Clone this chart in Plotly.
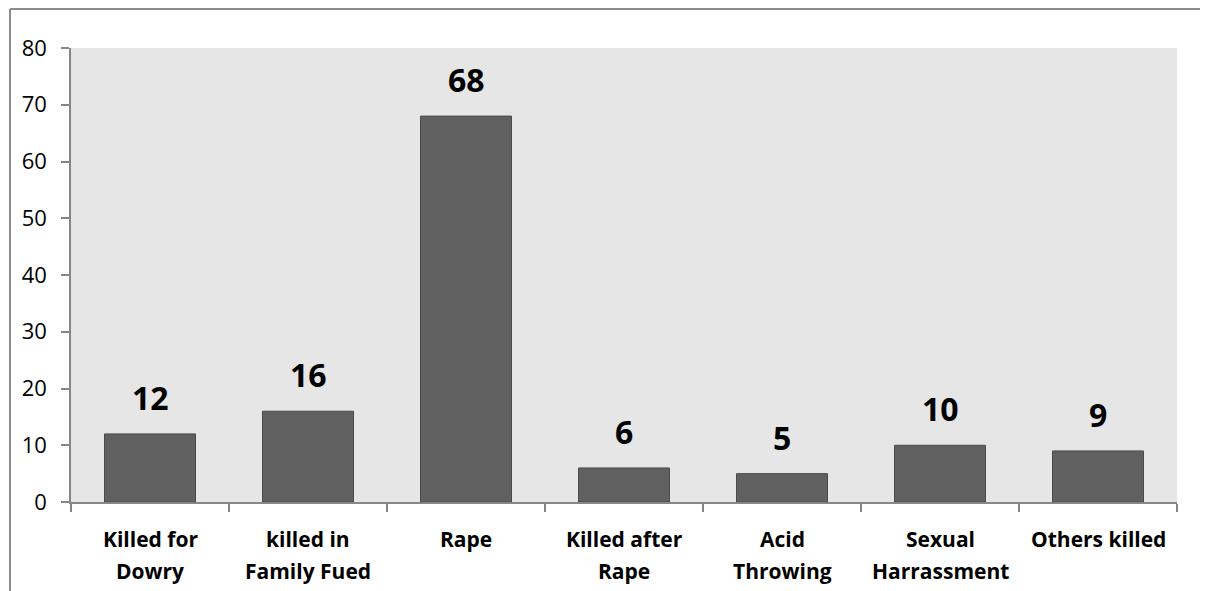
import plotly.graph_objects as go

categories = ["Killed for Dowry", "killed in Family Fued", "Rape", "Killed after Rape",
              "Acid Throwing", "Sexual Harrassment", "Others killed"]
label_line1 = ["Killed for", "killed in", "Rape", "Killed after", "Acid", "Sexual", "Others killed"]
label_line2 = ["Dowry", "Family Fued", "", "Rape", "Throwing", "Harrassment", ""]
values = [12, 16, 68, 6, 5, 10, 9]
y_ticks = [0, 10, 20, 30, 40, 50, 60, 70, 80]

# page body has an 8px margin; compensate so the plot lands where the reference has it
W, H = 1200, 583
ML, MR, MT, MB = 63, 31, 40, 89
FONT = "Open Sans"

fig = go.Figure()
fig.add_trace(go.Bar(
    x=categories, y=values,
    marker=dict(color="#606060", line=dict(color="#4a4a4a", width=1)),
    hoverinfo="x+y",
))

annotations = []
for c, v in zip(categories, values):
    annotations.append(dict(x=c, y=v, xref="x", yref="y", text=f"<b>{v}</b>",
                            showarrow=False, yanchor="bottom", yshift=13,
                            font=dict(family=FONT, size=32, color="#000000")))
for c, l1, l2 in zip(categories, label_line1, label_line2):
    annotations.append(dict(x=c, y=0, xref="x", yref="y", text=f"<b>{l1}</b>",
                            showarrow=False, yanchor="top", yshift=-21,
                            font=dict(family=FONT, size=21, color="#000000")))
    if l2:
        annotations.append(dict(x=c, y=0, xref="x", yref="y", text=f"<b>{l2}</b>",
                                showarrow=False, yanchor="top", yshift=-53,
                                font=dict(family=FONT, size=21, color="#000000")))

plot_w = W - ML - MR
plot_h = H - MT - MB
bx = (2 - ML) / plot_w
by = (plot_h + MT - 1) / plot_h
border = dict(color="#8c8c8c", width=2)
fig.update_layout(
    width=W, height=H,
    margin=dict(l=ML, r=MR, t=MT, b=MB, pad=0),
    paper_bgcolor="#ffffff",
    plot_bgcolor="#e6e6e6",
    bargap=0.424,
    showlegend=False,
    font=dict(family=FONT, color="#000000"),
    annotations=annotations,
    shapes=[
        dict(type="line", xref="paper", yref="paper", x0=bx, x1=1.1, y0=by, y1=by,
             line=border, layer="below"),
        dict(type="line", xref="paper", yref="paper", x0=bx, x1=bx, y0=-0.3, y1=by,
             line=border, layer="below"),
    ],
)
fig.update_xaxes(
    showticklabels=False, showgrid=False, zeroline=False,
    showline=True, linecolor="#868686", linewidth=1.5,
    ticks="outside", ticklen=8, tickcolor="#868686", tickwidth=1.5,
    tickson="boundaries",
)
fig.update_yaxes(
    range=[0, 80], tickvals=y_ticks, showgrid=False, zeroline=False,
    showline=True, linecolor="#868686", linewidth=1.5,
    ticks="outside", ticklen=8, tickcolor="#868686", tickwidth=1.5,
    ticklabelstandoff=10,
    tickfont=dict(family=FONT, size=22, color="#000000"),
)

fig.write_html("out.html")
